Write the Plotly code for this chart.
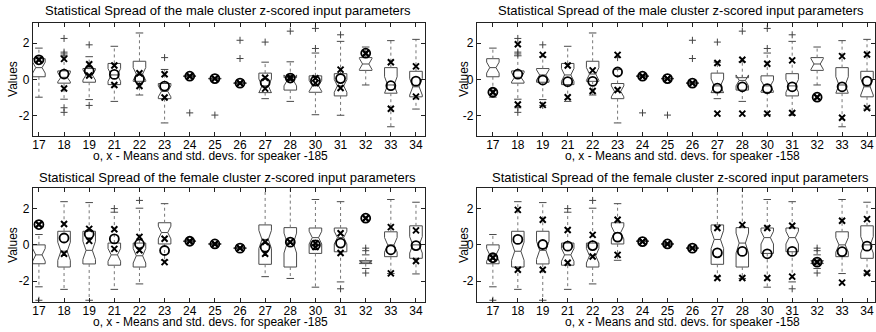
import plotly.graph_objects as go

categories = ['17', '18', '19', '21', '22', '23', '24', '25', '26', '27', '28', '30', '31', '32', '33', '34']

# ---- male cluster box statistics ----
male_lower = [-0.97, -1.08, -1.10, -1.20, -0.85, -2.38, 0.15, 0.02, -0.24, -1.05, -1.20, -1.93, -1.96, -0.30, -2.59, -1.62]
male_q1 = [0.15, -0.20, -0.15, -0.28, -0.10, -1.05, 0.17, 0.04, -0.21, -0.72, -0.58, -0.70, -0.90, 0.50, -0.75, -0.95]
male_med = [0.65, 0.12, 0.25, 0.25, 0.30, -0.65, 0.18, 0.05, -0.20, -0.35, -0.05, -0.35, -0.35, 0.85, -0.30, -0.40]
male_q3 = [1.14, 0.47, 0.60, 0.88, 1.00, -0.22, 0.19, 0.06, -0.19, 0.35, 0.10, 0.20, 0.32, 1.20, 0.65, 0.45]
male_upper = [1.72, 1.30, 1.25, 1.82, 2.55, 0.55, 0.21, 0.08, -0.16, 0.95, 0.97, 1.45, 2.09, 1.78, 2.13, 2.20]
male_notch = [0.30, 0.25, 0.28, 0.35, 0.35, 0.30, 0.01, 0.01, 0.01, 0.38, 0.30, 0.30, 0.35, 0.30, 0.45, 0.45]
male_outliers = [[], [2.25, 1.5, 1.4, -1.55, -1.8], [1.9, -1.42], [], [], [1.2], [-1.83], [-1.95],
                 [2.15, 1.15], [2.05], [2.65], [1.7, 2.8], [2.45], [], [], []]

# ---- female cluster box statistics ----
female_lower = [-2.31, -2.45, -3.05, -2.45, -2.15, -0.85, 0.17, 0.02, -0.21, -1.75, -1.85, -2.33, -2.04, -1.30, -1.58, -1.60]
female_q1 = [-1.04, -1.22, -1.05, -1.12, -1.22, 0.05, 0.19, 0.04, -0.19, -1.07, -1.22, -0.47, -0.38, -1.03, -0.65, -0.74]
female_med = [-0.55, -0.35, -0.30, -0.55, -0.60, 0.68, 0.20, 0.05, -0.18, 0.30, 0.10, 0.40, 0.40, -0.95, 0.00, 0.00]
female_q3 = [0.00, 0.75, 0.75, 0.10, 0.10, 1.22, 0.21, 0.06, -0.17, 1.10, 0.95, 0.93, 0.93, -0.87, 0.72, 1.05]
female_upper = [0.57, 2.38, 2.33, 1.80, 2.02, 2.27, 0.23, 0.08, -0.15, 3.30, 3.30, 2.50, 2.38, -0.55, 2.50, 2.35]
female_notch = [0.35, 0.50, 0.50, 0.35, 0.40, 0.35, 0.01, 0.01, 0.01, 0.50, 0.55, 0.35, 0.35, 0.06, 0.40, 0.45]
female_outliers = [[-3.05], [], [], [2.0], [2.45], [], [], [], [], [], [], [], [-2.42],
                   [-0.18, -0.32, -1.55], [], []]

# ---- speaker means (o) and mean +/- std (x) ----
tl_mean = [1.08, 0.30, 0.48, 0.28, 0.02, -0.36, 0.18, 0.05, -0.20, -0.18, 0.08, -0.07, 0.05, 1.44, -0.34, -0.09]
tl_xhi = [1.08, 1.13, 0.84, 0.77, 0.34, 0.29, 0.18, 0.05, -0.20, 0.10, 0.12, 0.07, 0.54, 1.44, 0.95, 0.72]
tl_xlo = [1.08, -0.49, 0.22, -0.30, -0.36, -0.99, 0.18, 0.05, -0.20, -0.50, 0.04, -0.20, -0.47, 1.44, -1.60, -0.94]

tr_mean = [-0.70, 0.29, -0.03, -0.12, -0.10, 0.41, 0.18, 0.05, -0.20, -0.47, -0.40, -0.50, -0.40, -0.97, -0.40, -0.09]
tr_xhi = [-0.70, 1.93, 1.35, 0.77, 0.50, 1.35, 0.18, 0.05, -0.20, 0.90, 1.08, 0.86, 1.05, -0.97, 1.28, 1.37]
tr_xlo = [-0.70, -1.37, -1.39, -0.97, -0.63, -0.58, 0.18, 0.05, -0.20, -1.87, -1.87, -1.87, -1.84, -0.97, -2.10, -1.57]

bl_mean = [1.12, 0.38, 0.60, 0.33, 0.05, -0.31, 0.20, 0.05, -0.18, -0.13, 0.15, 0.00, 0.10, 1.47, -0.27, -0.04]
bl_xhi = [1.12, 1.15, 0.88, 0.86, 0.44, 0.34, 0.20, 0.05, -0.18, 0.16, 0.15, 0.09, 0.64, 1.47, 0.98, 0.80]
bl_xlo = [1.12, -0.49, 0.22, -0.22, -0.30, -0.95, 0.20, 0.05, -0.18, -0.49, 0.15, -0.12, -0.45, 1.47, -1.57, -0.89]

br_mean = [-0.71, 0.30, 0.02, -0.07, -0.04, 0.43, 0.18, 0.05, -0.18, -0.44, -0.36, -0.49, -0.36, -0.95, -0.37, -0.07]
br_xhi = [-0.71, 1.93, 1.38, 0.82, 0.55, 1.38, 0.18, 0.05, -0.18, 0.93, 1.10, 0.93, 1.05, -0.95, 1.33, 1.42]
br_xlo = [-0.71, -1.37, -1.37, -0.98, -0.64, -0.55, 0.18, 0.05, -0.18, -1.82, -1.82, -1.82, -1.75, -0.95, -2.08, -1.55]

male_title = 'Statistical Spread of the male cluster z-scored input parameters'
female_title = 'Statistical Spread of the female cluster z-scored input parameters'
xlabel_185 = 'o, x - Means and std. devs. for speaker -185'
xlabel_158 = 'o, x - Means and std. devs. for speaker -158'

W, H = 876, 332
FONT = 'Liberation Sans, Arial, sans-serif'
pos = list(range(1, len(categories) + 1))

male = dict(lo=male_lower, q1=male_q1, med=male_med, q3=male_q3, hi=male_upper, notch=male_notch, out=male_outliers)
female = dict(lo=female_lower, q1=female_q1, med=female_med, q3=female_q3, hi=female_upper, notch=female_notch, out=female_outliers)

panels = [
    dict(box=male, mk=(tl_mean, tl_xhi, tl_xlo), xdom=(32, 425), ydom=(23.3, 135.7), xr=(0.762, 16.36), yr=(-3.08, 3.08),
         title=male_title, tx=227.5, ty=11, xlabel=xlabel_185, lx=210, ly=156, vx=12, vy=79),
    dict(box=male, mk=(tr_mean, tr_xhi, tr_xlo), xdom=(477, 876), ydom=(23.3, 135.7), xr=(0.36, 16.32), yr=(-3.08, 3.08),
         title=male_title, tx=681.5, ty=11, xlabel=xlabel_158, lx=683.5, ly=156, vx=464, vy=79),
    dict(box=female, mk=(bl_mean, bl_xhi, bl_xlo), xdom=(32, 425), ydom=(187.7, 301.7), xr=(0.762, 16.36), yr=(-3.13, 3.15),
         title=female_title, tx=227.5, ty=177, xlabel=xlabel_185, lx=210, ly=322, vx=12, vy=245),
    dict(box=female, mk=(br_mean, br_xhi, br_xlo), xdom=(477, 876), ydom=(187.7, 301.7), xr=(0.36, 16.32), yr=(-3.13, 3.15),
         title=female_title, tx=681.5, ty=177, xlabel=xlabel_158, lx=683.5, ly=322, vx=464, vy=245),
]

fig = go.Figure()
annotations = []
layout = {}
BOXC = '#4a4a4a'
WHC = '#777777'
CAP = 0.15

for i, p in enumerate(panels, start=1):
    xa, ya = f'x{i}', f'y{i}'
    b = p['box']
    fig.add_trace(go.Box(
        x=pos, q1=b['q1'], median=b['med'], q3=b['q3'], lowerfence=b['q1'], upperfence=b['q3'],
        notchspan=b['notch'], notched=True, width=0.5, whiskerwidth=0,
        line=dict(color=BOXC, width=1), fillcolor='rgba(0,0,0,0)',
        boxpoints=False, showlegend=False, hoverinfo='skip', xaxis=xa, yaxis=ya))
    # whiskers (dotted) and caps
    wx, wy, cx, cy = [], [], [], []
    for k, xp in enumerate(pos):
        wx += [xp, xp, None, xp, xp, None]
        wy += [b['q3'][k], b['hi'][k], None, b['q1'][k], b['lo'][k], None]
        cx += [xp - CAP, xp + CAP, None, xp - CAP, xp + CAP, None]
        cy += [b['hi'][k], b['hi'][k], None, b['lo'][k], b['lo'][k], None]
    fig.add_trace(go.Scatter(x=wx, y=wy, mode='lines', line=dict(color=WHC, width=1, dash='dot'),
                             showlegend=False, hoverinfo='skip', xaxis=xa, yaxis=ya))
    fig.add_trace(go.Scatter(x=cx, y=cy, mode='lines', line=dict(color=BOXC, width=1),
                             showlegend=False, hoverinfo='skip', xaxis=xa, yaxis=ya))
    ox, oy = [], []
    for k, xp in enumerate(pos):
        for v in b['out'][k]:
            ox.append(xp)
            oy.append(v)
    fig.add_trace(go.Scatter(x=ox, y=oy, mode='markers',
                             marker=dict(symbol='cross-thin', size=5, line=dict(color='#444', width=1)),
                             showlegend=False, hoverinfo='skip', xaxis=xa, yaxis=ya))
    mean, xhi, xlo = p['mk']
    fig.add_trace(go.Scatter(x=pos, y=mean, mode='markers',
                             marker=dict(symbol='circle-open', size=9, color='black', line=dict(color='black', width=1.8)),
                             showlegend=False, hoverinfo='skip', xaxis=xa, yaxis=ya))
    fig.add_trace(go.Scatter(x=pos + pos, y=xhi + xlo, mode='markers',
                             marker=dict(symbol='x-thin', size=6, line=dict(color='black', width=2)),
                             showlegend=False, hoverinfo='skip', xaxis=xa, yaxis=ya))

    axis_common = dict(showline=True, linecolor='#222', linewidth=1, mirror='ticks', ticks='inside',
                       ticklen=4, tickcolor='#222', showgrid=False, zeroline=False,
                       ticklabeloverflow='allow',
                       tickfont=dict(family=FONT, size=12, color='black'))
    layout[f'xaxis{i}'] = dict(axis_common, domain=[p['xdom'][0] / W, p['xdom'][1] / W], range=list(p['xr']),
                               tickvals=pos, ticktext=categories, anchor=ya, ticklabelstandoff=-2)
    layout[f'yaxis{i}'] = dict(axis_common, domain=[1 - p['ydom'][1] / H, 1 - p['ydom'][0] / H], range=list(p['yr']),
                               tickvals=[-2, 0, 2], ticktext=['-2', '0', '2'], anchor=xa)
    annotations.append(dict(text=p['title'], x=p['tx'] / W, y=1 - p['ty'] / H, xref='paper', yref='paper',
                            xanchor='center', yanchor='middle', showarrow=False,
                            font=dict(family=FONT, size=13, color='black')))
    annotations.append(dict(text=p['xlabel'], x=p['lx'] / W, y=1 - p['ly'] / H, xref='paper', yref='paper',
                            xanchor='center', yanchor='middle', showarrow=False,
                            font=dict(family=FONT, size=12, color='black')))
    annotations.append(dict(text='Values', x=p['vx'] / W, y=1 - p['vy'] / H, xref='paper', yref='paper',
                            xanchor='center', yanchor='middle', showarrow=False, textangle=-90,
                            font=dict(family=FONT, size=12, color='black')))

fig.update_layout(width=W, height=H, autosize=False, margin=dict(l=0, r=0, t=0, b=0),
                  paper_bgcolor='white', plot_bgcolor='white', annotations=annotations,
                  hovermode=False, **layout)

fig.write_html('out.html', config={'displayModeBar': False, 'staticPlot': True},
               post_script="document.body.style.margin='0';document.body.style.overflow='hidden';")
